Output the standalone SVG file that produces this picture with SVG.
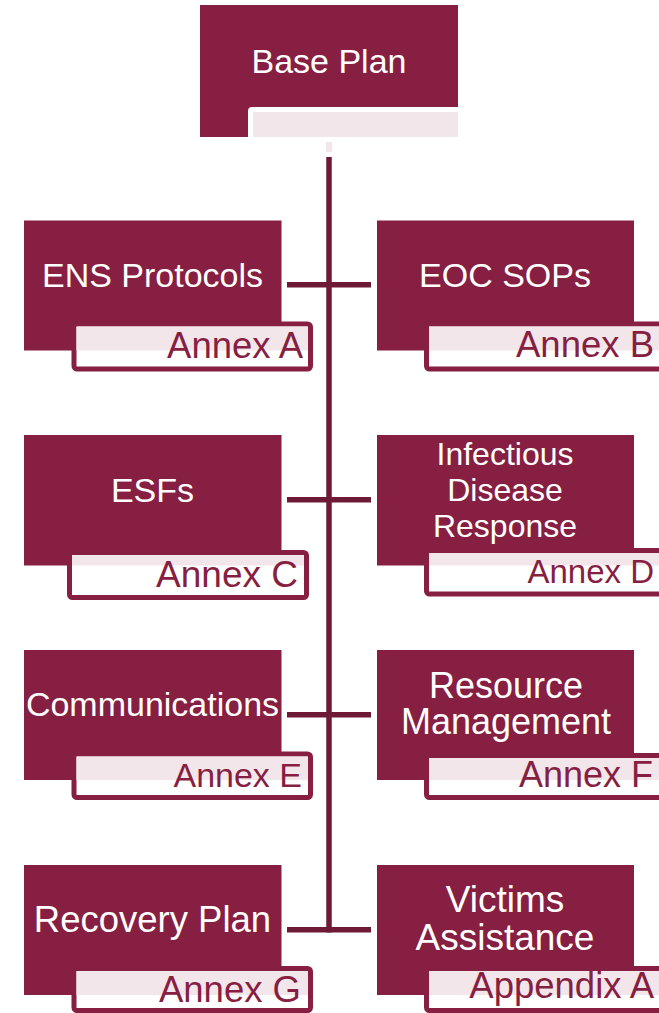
<svg xmlns="http://www.w3.org/2000/svg" width="659" height="1013" viewBox="0 0 659 1013">
<style>
.node{fill:#861F41}
.lbl{fill:#FFFFFF;stroke:#861F41;stroke-width:5}
.band{fill:#F2E6EA}
.t{font-family:"Liberation Sans",Arial,sans-serif;fill:#FFFFFF;text-anchor:middle}
.a{font-family:"Liberation Sans",Arial,sans-serif;fill:#861F41;text-anchor:end}
.conn{stroke:#6E1A37;stroke-width:5.5;fill:none}
</style>
<rect width="659" height="1013" fill="#FFFFFF"/>
<g id="base">
<rect class="node" x="200" y="5" width="258" height="132"/>
<rect x="248" y="107" width="215" height="40" rx="4" fill="#FFFFFF"/>
<rect class="band" x="253" y="112" width="205" height="25"/>
<text class="t" x="329" y="73" font-size="34">Base Plan</text>
<rect class="band" x="326" y="142" width="6" height="10"/>
</g>
<g id="connectors">
<line class="conn" x1="329" y1="157" x2="329" y2="932.5"/>
<line class="conn" x1="287" y1="284.7" x2="371" y2="284.7"/>
<line class="conn" x1="287" y1="499.7" x2="371" y2="499.7"/>
<line class="conn" x1="287" y1="714.7" x2="371" y2="714.7"/>
<line class="conn" x1="287" y1="929.7" x2="371" y2="929.7"/>
</g>
<g id="ens">
<rect class="node" x="24" y="220.5" width="257.5" height="130"/>
<rect class="lbl" x="74" y="324" width="236.5" height="45" rx="3"/>
<rect class="band" x="76.5" y="326.5" width="231.5" height="24"/>
<text class="t" x="152.5" y="287" font-size="34">ENS Protocols</text>
<text class="a" x="303" y="358" font-size="36.5">Annex A</text>
</g>
<g id="eoc">
<rect class="node" x="377" y="220.5" width="257" height="130"/>
<rect class="lbl" x="426.5" y="324" width="260" height="45" rx="3"/>
<rect class="band" x="429" y="326.5" width="240" height="24"/>
<text class="t" x="505" y="287" font-size="34">EOC SOPs</text>
<text class="a" x="654" y="357" font-size="36.5">Annex B</text>
</g>
<g id="esf">
<rect class="node" x="24" y="435" width="257.5" height="130.5"/>
<rect class="lbl" x="69.5" y="552.5" width="237" height="45" rx="3"/>
<rect class="band" x="72" y="555" width="232" height="10.5"/>
<text class="t" x="152.5" y="502" font-size="34">ESFs</text>
<text class="a" x="298" y="587" font-size="37">Annex C</text>
</g>
<g id="idr">
<rect class="node" x="377" y="435" width="257" height="130.5"/>
<rect class="lbl" x="426.5" y="550.5" width="260" height="43.5" rx="3"/>
<rect class="band" x="429" y="553" width="240" height="12.5"/>
<text class="t" x="505" y="465" font-size="32">Infectious</text>
<text class="t" x="505" y="501" font-size="32">Disease</text>
<text class="t" x="505" y="537" font-size="32">Response</text>
<text class="a" x="654" y="583" font-size="33">Annex D</text>
</g>
<g id="comm">
<rect class="node" x="24" y="650" width="257.5" height="130"/>
<rect class="lbl" x="74" y="754" width="236.5" height="43.5" rx="3"/>
<rect class="band" x="76.5" y="756.5" width="231.5" height="23.5"/>
<text class="t" x="152.5" y="716" font-size="34">Communications</text>
<text class="a" x="302" y="787" font-size="34">Annex E</text>
</g>
<g id="res">
<rect class="node" x="377" y="650" width="257" height="130"/>
<rect class="lbl" x="426.5" y="755.5" width="260" height="42" rx="3"/>
<rect class="band" x="429" y="758" width="240" height="22"/>
<text class="t" x="506" y="698" font-size="36">Resource</text>
<text class="t" x="506" y="734" font-size="36">Management</text>
<text class="a" x="653" y="787" font-size="36">Annex F</text>
</g>
<g id="rec">
<rect class="node" x="24" y="865" width="257.5" height="130"/>
<rect class="lbl" x="74" y="968.5" width="236.5" height="42" rx="3"/>
<rect class="band" x="76.5" y="971" width="231.5" height="24"/>
<text class="t" x="152.5" y="932" font-size="36.5">Recovery Plan</text>
<text class="a" x="301" y="1002" font-size="36.5">Annex G</text>
</g>
<g id="vic">
<rect class="node" x="377" y="865" width="257" height="130"/>
<rect class="lbl" x="426.5" y="968.5" width="260" height="42" rx="3"/>
<rect class="band" x="429" y="971" width="240" height="24"/>
<text class="t" x="505" y="912" font-size="37">Victims</text>
<text class="t" x="505" y="950" font-size="37">Assistance</text>
<text class="a" x="654" y="998" font-size="36.5">Appendix A</text>
</g>
</svg>
